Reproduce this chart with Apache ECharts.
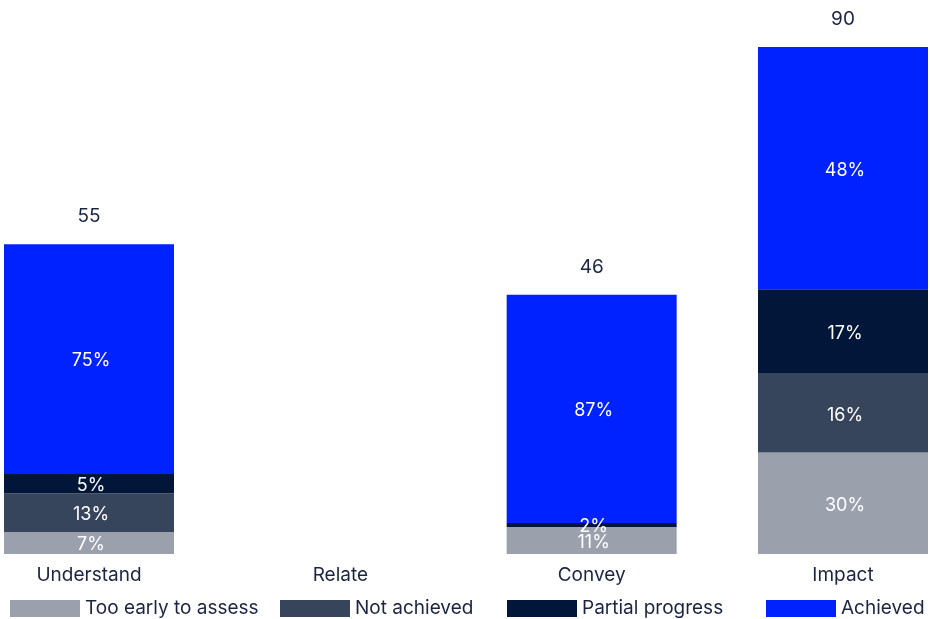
<!DOCTYPE html>
<html>
<head>
<meta charset="utf-8">
<script src="https://cdn.jsdelivr.net/npm/echarts@6/dist/echarts.min.js"></script>
<style>
  html, body { margin: 0; padding: 0; background: #fff; }
  #chart { width: 930px; height: 619px; }
</style>
</head>
<body>
<div id="chart"></div>
<script>
var categories = ['Understand', 'Relate', 'Convey', 'Impact'];

// bar heights (counts)
var tooEarly    = [3.9, null, 4.8, 18];
var notAchieved = [6.9, null, null, 14];
var partial     = [3.4, null, 0.7, 15];
var achieved    = [40.8, null, 40.5, 43];
var totals      = [55, null, 46, 90];

// percentage labels as printed
var tooEarlyLbl    = ['7%', '', '11%', '30%'];
var notAchievedLbl = ['13%', '', '', '16%'];
var partialLbl     = ['5%', '', '2%', '17%'];
var achievedLbl    = ['75%', '', '87%', '48%'];

var textColor = '#1b2540';
var font = 'Inter, "Noto Sans", sans-serif';

function seg(name, data, labels, color) {
    return {
        name: name,
        type: 'bar',
        stack: 'all',
        barWidth: 170,
        data: data,
        itemStyle: { color: color },
        label: {
            show: true,
            position: 'inside',
            offset: [2, 2],
            color: '#fff',
            fontFamily: font,
            fontSize: 18,
            formatter: function (p) { return labels[p.dataIndex]; }
        }
    };
}

var myChart = echarts.init(document.getElementById('chart'));

function legendAt(name, left) {
    return {
        data: [name],
        left: left,
        top: 599,
        padding: 0,
        itemWidth: 70,
        itemHeight: 17,
        itemGap: 0,
        icon: 'rect',
        selectedMode: false,
        textStyle: { color: textColor, fontFamily: font, fontSize: 19 }
    };
}

var option = {
    animation: false,
    grid: { left: 89, right: 87, top: 47, bottom: 65 },
    legend: [
        legendAt('Too early to assess', 10),
        legendAt('Not achieved', 280),
        legendAt('Partial progress', 507),
        legendAt('Achieved', 766)
    ],
    xAxis: {
        type: 'category',
        data: categories,
        boundaryGap: false,
        axisLine: { show: false },
        axisTick: { show: false },
        axisLabel: { color: textColor, fontFamily: font, fontSize: 19, margin: 12 }
    },
    yAxis: {
        type: 'value',
        min: 0,
        max: 90,
        show: false,
        splitLine: { show: false }
    },
    series: [
        seg('Too early to assess', tooEarly, tooEarlyLbl, '#9aa1ad'),
        seg('Not achieved', notAchieved, notAchievedLbl, '#36445c'),
        seg('Partial progress', partial, partialLbl, '#011638'),
        seg('Achieved', achieved, achievedLbl, '#0022ff'),
        {
            name: 'total',
            type: 'bar',
            stack: 'all',
            barWidth: 170,
            data: totals.map(function (t) { return t == null ? null : 0; }),
            itemStyle: { color: 'transparent' },
            label: {
                show: true,
                position: 'top',
                distance: 18,
                color: textColor,
                fontFamily: font,
                fontSize: 19,
                formatter: function (p) { return totals[p.dataIndex]; }
            }
        }
    ]
};

myChart.setOption(option);
</script>
</body>
</html>
